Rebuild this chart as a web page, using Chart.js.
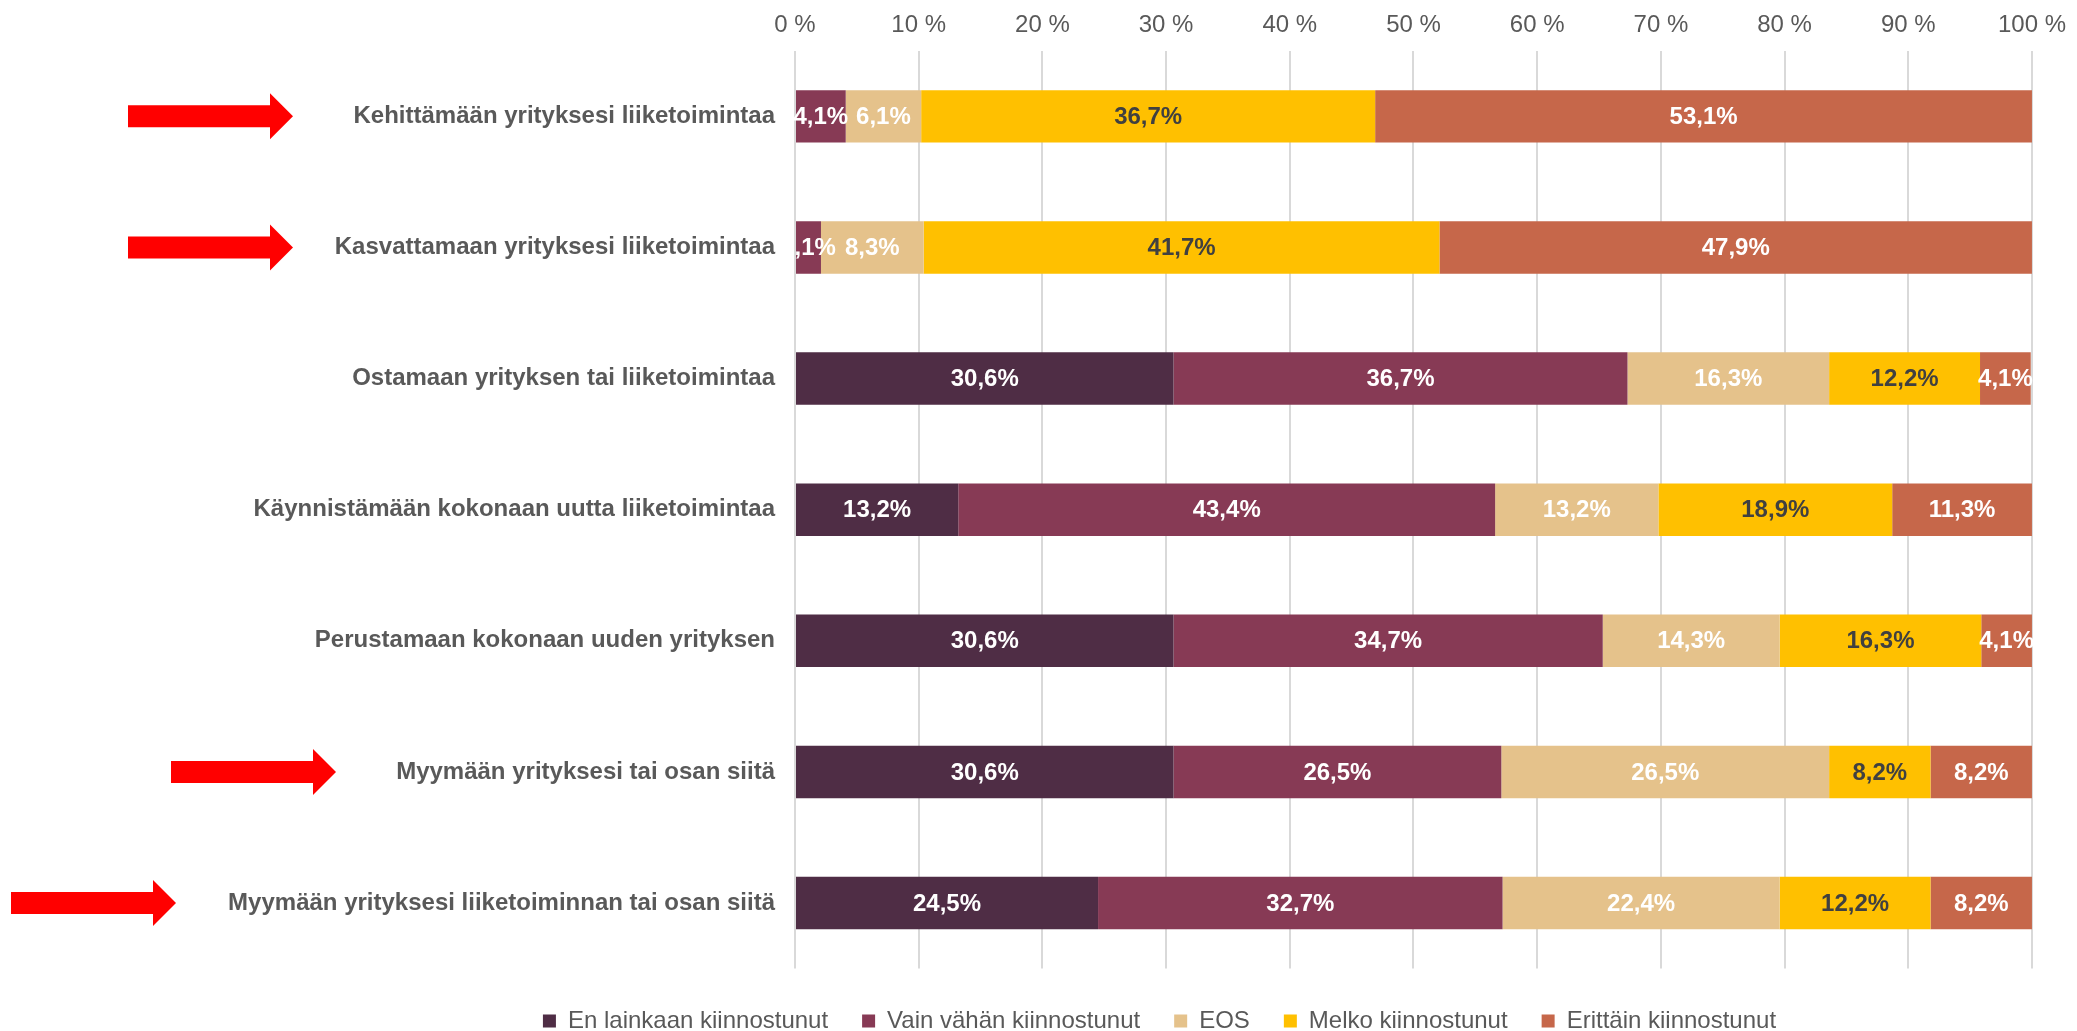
<!DOCTYPE html>
<html>
<head>
<meta charset="utf-8">
<script src="https://cdn.jsdelivr.net/npm/chart.js@4/dist/chart.umd.min.js"></script>
<style>
  html, body { margin: 0; padding: 0; background: #ffffff; }
  #wrap { width: 2077px; height: 1031px; position: relative; }
</style>
</head>
<body>
<div id="wrap"><canvas id="c" width="2077" height="1031"></canvas></div>
<script>
// ---- data ----
const categories = [
  "Kehittämään yrityksesi liiketoimintaa",
  "Kasvattamaan yrityksesi liiketoimintaa",
  "Ostamaan yrityksen tai liiketoimintaa",
  "Käynnistämään kokonaan uutta liiketoimintaa",
  "Perustamaan kokonaan uuden yrityksen",
  "Myymään yrityksesi tai osan siitä",
  "Myymään yrityksesi liiketoiminnan tai osan siitä"
];
const seriesNames = ["En lainkaan kiinnostunut", "Vain vähän kiinnostunut", "EOS", "Melko kiinnostunut", "Erittäin kiinnostunut"];
const enLainkaan = [0, 0, 30.6, 13.2, 30.6, 30.6, 24.5];
const vainVahan  = [4.1, 2.1, 36.7, 43.4, 34.7, 26.5, 32.7];
const eos        = [6.1, 8.3, 16.3, 13.2, 14.3, 26.5, 22.4];
const melko      = [36.7, 41.7, 12.2, 18.9, 16.3, 8.2, 12.2];
const erittain   = [53.1, 47.9, 4.1, 11.3, 4.1, 8.2, 8.2];
const xTicks = [0, 10, 20, 30, 40, 50, 60, 70, 80, 90, 100];
const highlightedRows = [0, 1, 5, 6];

// ---- styles ----
const colors = ["#4F2D45", "#873A55", "#E5C28B", "#FFC000", "#C6674A"];
const labelColors = ["#FFFFFF", "#FFFFFF", "#FFFFFF", "#404040", "#FFFFFF"];
const arrowLeftPx = { 0: 128, 1: 128, 5: 171, 6: 11 };
const FONT = "'Liberation Sans', Arial, sans-serif";
const LEGEND_SHIFT = 14;

const seriesValues = [enLainkaan, vainVahan, eos, melko, erittain];
const datasets = seriesNames.map((name, i) => ({
  label: name,
  data: seriesValues[i],
  backgroundColor: colors[i],
  borderWidth: 0,
  barPercentage: 0.4,
  categoryPercentage: 1.0
}));

const dataLabelPlugin = {
  id: 'dataLabels',
  afterDatasetsDraw(chart) {
    const ctx = chart.ctx;
    ctx.save();
    ctx.font = "bold 24px " + FONT;
    ctx.textAlign = 'center';
    ctx.textBaseline = 'middle';
    chart.data.datasets.forEach((ds, di) => {
      const meta = chart.getDatasetMeta(di);
      meta.data.forEach((el, idx) => {
        const v = ds.data[idx];
        if (!v) return;
        const p = el.getCenterPoint();
        ctx.fillStyle = labelColors[di];
        ctx.fillText(v.toFixed(1).replace('.', ',') + '%', p.x, p.y + 1);
      });
    });
    ctx.restore();
  }
};

const arrowPlugin = {
  id: 'arrows',
  afterLayout(chart) {
    if (chart.legend) {
      chart.legend.left += LEGEND_SHIFT;
      chart.legend.right += LEGEND_SHIFT;
    }
  },
  afterDraw(chart) {
    const ctx = chart.ctx;
    const yScale = chart.scales.y;
    ctx.save();
    ctx.fillStyle = '#FF0000';
    highlightedRows.forEach(r => {
      const cy = yScale.getPixelForValue(r);
      const x0 = arrowLeftPx[r];
      const len = 165, headLen = 23, shaftH = 22, headH = 46;
      ctx.beginPath();
      ctx.moveTo(x0, cy - shaftH / 2);
      ctx.lineTo(x0 + len - headLen, cy - shaftH / 2);
      ctx.lineTo(x0 + len - headLen, cy - headH / 2);
      ctx.lineTo(x0 + len, cy);
      ctx.lineTo(x0 + len - headLen, cy + headH / 2);
      ctx.lineTo(x0 + len - headLen, cy + shaftH / 2);
      ctx.lineTo(x0, cy + shaftH / 2);
      ctx.closePath();
      ctx.fill();
    });
    ctx.restore();
  }
};

new Chart(document.getElementById('c'), {
  type: 'bar',
  data: { labels: categories, datasets },
  plugins: [dataLabelPlugin, arrowPlugin],
  options: {
    indexAxis: 'y',
    responsive: false,
    animation: false,
    layout: { padding: { left: 222, right: 8, top: 0, bottom: -12 } },
    plugins: {
      legend: {
        position: 'bottom',
        title: { display: true, text: ' ', font: { size: 2 }, padding: { top: 0, bottom: 4 } },
        labels: {
          boxWidth: 13, boxHeight: 13, padding: 34,
          color: '#595959',
          font: { family: FONT, size: 24 }
        }
      },
      tooltip: { enabled: false },
      title: { display: false }
    },
    scales: {
      x: {
        position: 'top',
        stacked: true,
        min: 0, max: 100,
        afterBuildTicks(scale) { scale.ticks = xTicks.map(v => ({ value: v })); },
        ticks: {
          callback: v => v + ' %',
          color: '#595959',
          font: { family: FONT, size: 24 },
          padding: 11,
          maxRotation: 0
        },
        grid: { color: '#D9D9D9', lineWidth: 2, drawTicks: false },
        border: { display: false }
      },
      y: {
        stacked: true,
        afterFit(scale) { scale.width = 573; },
        ticks: {
          color: '#595959',
          font: { family: FONT, size: 24, weight: 'bold' },
          padding: 12
        },
        grid: { display: false },
        border: { display: false }
      }
    }
  }
});
</script>
</body>
</html>
